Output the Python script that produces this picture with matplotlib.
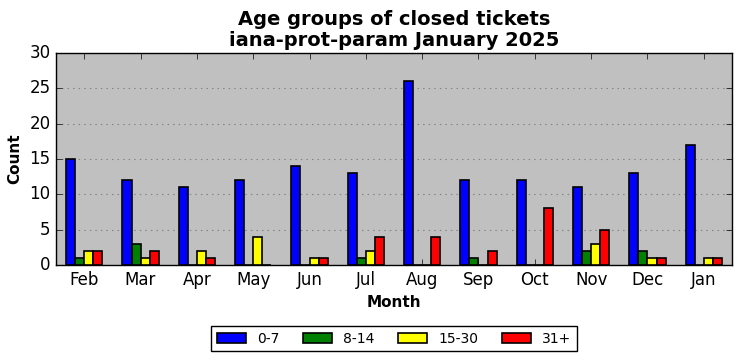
import numpy as np
import matplotlib
matplotlib.use('Agg')
import matplotlib.pyplot as plt

plt.style.use('classic')

# data
months = ['Feb', 'Mar', 'Apr', 'May', 'Jun', 'Jul', 'Aug', 'Sep', 'Oct', 'Nov', 'Dec', 'Jan']
age_0_7 = [15, 12, 11, 12, 14, 13, 26, 12, 12, 11, 13, 17]
age_8_14 = [1, 3, 0, 0, 0, 1, 0, 1, 0, 2, 2, 0]
age_15_30 = [2, 1, 2, 4, 1, 2, 0, 0, 0, 3, 1, 1]
age_31_plus = [2, 2, 1, 0, 1, 4, 4, 2, 8, 5, 1, 1]

series = [('0-7', age_0_7, 'blue'),
          ('8-14', age_8_14, 'green'),
          ('15-30', age_15_30, 'yellow'),
          ('31+', age_31_plus, 'red')]

fig = plt.figure(figsize=(7.42, 3.61), dpi=100, facecolor='white')
ax = fig.add_axes([0.0755, 0.266, 0.911, 0.587])
ax.set_facecolor('#c0c0c0')

x = np.arange(len(months))
width = 0.16
for i, (label, vals, color) in enumerate(series):
    ax.bar(x + (i - 1.5) * width, vals, width, color=color, edgecolor='black',
           linewidth=1.2, label=label, zorder=3)

ax.set_xlim(-0.5, len(months) - 0.5)
ax.set_ylim(0, 30)
ax.set_yticks(range(0, 31, 5))
ax.set_xticks(x)
ax.set_xticklabels(months)
ax.tick_params(labelsize=12)
ax.yaxis.grid(True, linestyle=':', color='gray', linewidth=0.8, zorder=0)
ax.set_axisbelow(True)

ax.set_title('Age groups of closed tickets\niana-prot-param January 2025',
             fontsize=14, fontweight='bold', linespacing=1.15)
ax.set_xlabel('Month', fontsize=11, fontweight='bold')
ax.set_ylabel('Count', fontsize=11, fontweight='bold')

fig.legend(loc='upper center', bbox_to_anchor=(0.531, 0.097), ncol=4,
           fontsize=10, frameon=True, fancybox=False, handlelength=2.1,
           handleheight=0.7, columnspacing=1.7, borderaxespad=0)

fig.savefig('out.png', dpi=100, facecolor='white')
